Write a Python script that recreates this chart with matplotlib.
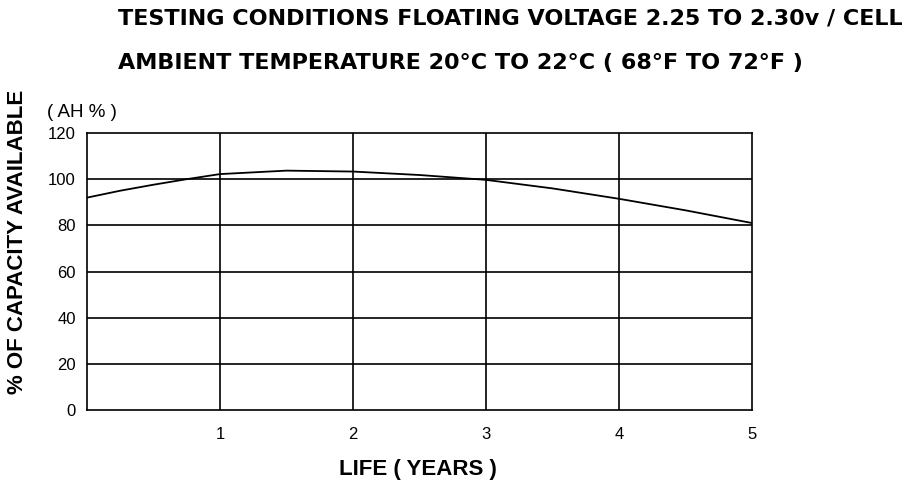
import matplotlib
matplotlib.use("Agg")
import matplotlib.pyplot as plt

# values
years = [0, 0.25, 0.5, 0.75, 1, 1.5, 2, 2.5, 3, 3.5, 4, 4.5, 5]
capacity = [92, 95, 97.6, 100, 102.2, 103.7, 103.3, 101.8, 99.7, 96, 91.5, 86.5, 81]

y_ticks = [0, 20, 40, 60, 80, 100, 120]
x_ticks = [1, 2, 3, 4, 5]

plt.rcParams['font.family'] = ['Liberation Sans', 'DejaVu Sans']

fig = plt.figure(figsize=(9.2, 4.86), dpi=100)
ax = fig.add_axes([87 / 920, 1 - 410 / 486, (752 - 87) / 920, (410 - 133) / 486])

# grid lines
for v in [20, 40, 60, 80, 100]:
    ax.axhline(v, color='black', lw=1.2, zorder=1)
for v in [1, 2, 3, 4]:
    ax.axvline(v, color='black', lw=1.2, zorder=1)

ax.plot(years, capacity, color='black', lw=1.3, zorder=2)

ax.set_xlim(0, 5)
ax.set_ylim(0, 120)
ax.set_xticks(x_ticks)
ax.set_yticks(y_ticks)
ax.tick_params(length=0, labelsize=12, pad=8)
ax.tick_params(axis='x', pad=12)
for s in ax.spines.values():
    s.set_linewidth(1.2)

title_font = dict(family='DejaVu Sans', fontsize=16, fontweight='bold', va='center', ha='left')
fig.text(118 / 920, 1 - 18 / 486, "TESTING CONDITIONS FLOATING VOLTAGE 2.25 TO 2.30v / CELL", **title_font)
fig.text(118 / 920, 1 - 63 / 486, "AMBIENT TEMPERATURE 20\u00b0C TO 22\u00b0C ( 68\u00b0F TO 72\u00b0F )", **title_font)
fig.text(18 / 920, 1 - 242 / 486, "% OF CAPACITY AVAILABLE", rotation=90,
         fontsize=16, fontweight='bold', va='center', ha='center')
fig.text(47 / 920, 1 - 112 / 486, "( AH % )", fontsize=13.5, va='center', ha='left')
fig.text(418 / 920, 1 - 469 / 486, "LIFE ( YEARS )", fontsize=16, fontweight='bold',
         va='center', ha='center')

fig.savefig("out.png", dpi=100)
